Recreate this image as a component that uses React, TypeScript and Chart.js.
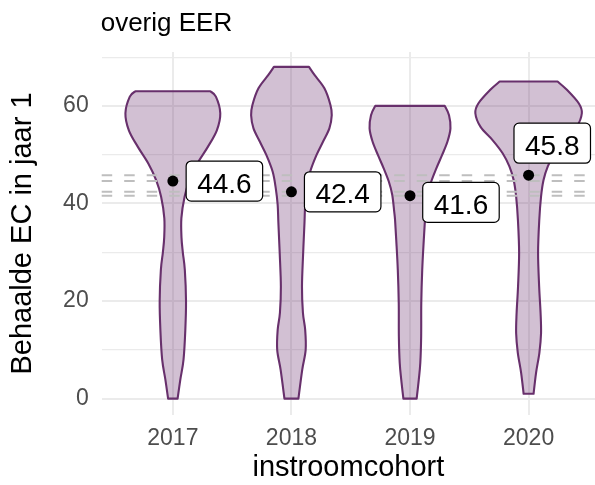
import { useEffect, useRef } from 'react';
import { Chart, registerables } from 'chart.js';

Chart.register(...registerables);

// ---- data ----
const cohorts = [2017, 2018, 2019, 2020];
const cohortLabels = ['2017', '2018', '2019', '2020'];
const means = [44.6, 42.4, 41.6, 45.8];
const meanLabels = ['44.6', '42.4', '41.6', '45.8'];
const yTicks = [0, 10, 20, 30, 40, 50, 60, 70];
const yTickLabels = ['0', '', '20', '', '40', '', '60', ''];

// violin profiles: EC level and half-width (in cohort units)
const ec2017 = [0, 3.9, 8, 14, 20, 26.4, 30, 33, 37, 41.4, 44.8, 48.2, 51.6, 55, 58.5, 61.9, 63];
const hw2017 = [0.040, 0.063, 0.090, 0.105, 0.111, 0.101, 0.084, 0.073, 0.072, 0.099, 0.141, 0.207, 0.295, 0.371, 0.400, 0.363, 0.316];
const ec2018 = [0, 5.9, 10, 14.1, 17.6, 23, 29.9, 36, 39.7, 43.1, 46.5, 49.9, 52.7, 55.4, 58.1, 60.2, 63.6, 66.3, 68];
const hw2018 = [0.059, 0.091, 0.120, 0.116, 0.097, 0.089, 0.099, 0.110, 0.116, 0.132, 0.158, 0.211, 0.267, 0.320, 0.340, 0.329, 0.278, 0.196, 0.148];
const ec2019 = [0, 3.9, 7.4, 12.8, 19.6, 26.4, 32.5, 36.6, 38.3, 41.8, 44.5, 47.2, 49.9, 52.7, 55.4, 58.1, 60];
const hw2019 = [0.056, 0.074, 0.087, 0.094, 0.095, 0.103, 0.116, 0.126, 0.133, 0.150, 0.179, 0.222, 0.270, 0.316, 0.341, 0.329, 0.293];
const ec2020 = [1.0, 5.3, 9.4, 13.4, 17.6, 23, 29.9, 36.6, 41.4, 44.8, 47.6, 50.3, 53, 55.7, 58.5, 60.5, 63.3, 65];
const hw2020 = [0.042, 0.063, 0.091, 0.105, 0.101, 0.089, 0.080, 0.090, 0.105, 0.126, 0.162, 0.219, 0.304, 0.405, 0.449, 0.424, 0.323, 0.244];

const violinEC = [ec2017, ec2018, ec2019, ec2020];
const violinHW = [hw2017, hw2018, hw2019, hw2020];

const titleText = 'overig EER';
const xTitle = 'instroomcohort';
const yTitle = 'Behaalde EC in jaar 1';

// ---- styling / layout ----
const FONT = '"Liberation Sans", Arial, Helvetica, sans-serif';
const VIOLIN_LINE = '#68306c';
const VIOLIN_FILL = 'rgba(106,48,110,0.3)';
const labelNudge: [number, number][] = [[13.3, 0], [13, 0], [12.7, 6.7], [-14.6, -32]];

type Pt = [number, number];

function smoothSide(ctx: CanvasRenderingContext2D, pts: Pt[], move: boolean) {
  if (move) ctx.moveTo(pts[0][0], pts[0][1]);
  else ctx.lineTo(pts[0][0], pts[0][1]);
  for (let i = 0; i < pts.length - 1; i++) {
    const p0 = pts[i - 1] || pts[i];
    const p1 = pts[i];
    const p2 = pts[i + 1];
    const p3 = pts[i + 2] || pts[i + 1];
    const c1x = p1[0] + (p2[0] - p0[0]) / 6;
    const c1y = p1[1] + (p2[1] - p0[1]) / 6;
    const c2x = p2[0] - (p3[0] - p1[0]) / 6;
    const c2y = p2[1] - (p3[1] - p1[1]) / 6;
    ctx.bezierCurveTo(c1x, c1y, c2x, c2y, p2[0], p2[1]);
  }
}

function roundRect(ctx: CanvasRenderingContext2D, x: number, y: number, w: number, h: number, r: number) {
  ctx.beginPath();
  ctx.moveTo(x + r, y);
  ctx.lineTo(x + w - r, y);
  ctx.arcTo(x + w, y, x + w, y + r, r);
  ctx.lineTo(x + w, y + h - r);
  ctx.arcTo(x + w, y + h, x + w - r, y + h, r);
  ctx.lineTo(x + r, y + h);
  ctx.arcTo(x, y + h, x, y + h - r, r);
  ctx.lineTo(x, y + r);
  ctx.arcTo(x, y, x + r, y, r);
  ctx.closePath();
}

const violinPlugin = {
  id: 'violinPlugin',
  beforeDatasetsDraw(chart: any) {
    const { ctx, chartArea } = chart;
    const xs = chart.scales.x;
    const ys = chart.scales.y;
    ctx.save();
    cohorts.forEach((c, k) => {
      const ec = violinEC[k];
      const hw = violinHW[k];
      const right: Pt[] = ec.map((e, i) => [xs.getPixelForValue(c + hw[i]), ys.getPixelForValue(e)]);
      const left: Pt[] = ec.map((e, i) => [xs.getPixelForValue(c - hw[i]), ys.getPixelForValue(e)] as Pt).reverse();
      ctx.beginPath();
      smoothSide(ctx, right, true);
      smoothSide(ctx, left, false);
      ctx.closePath();
      ctx.fillStyle = VIOLIN_FILL;
      ctx.fill();
      ctx.lineWidth = 2.1;
      ctx.lineJoin = 'round';
      ctx.strokeStyle = VIOLIN_LINE;
      ctx.stroke();
    });
    // dashed mean lines
    ctx.setLineDash([10.5, 12]);
    ctx.strokeStyle = '#bebebe';
    ctx.lineWidth = 2;
    means.forEach((m) => {
      const py = ys.getPixelForValue(m);
      ctx.beginPath();
      ctx.moveTo(chartArea.left, py);
      ctx.lineTo(chartArea.right, py);
      ctx.stroke();
    });
    ctx.restore();
  },
  afterDatasetsDraw(chart: any) {
    const { ctx } = chart;
    const xs = chart.scales.x;
    const ys = chart.scales.y;
    ctx.save();
    ctx.font = `28px ${FONT}`;
    ctx.textAlign = 'left';
    ctx.textBaseline = 'alphabetic';
    cohorts.forEach((c, k) => {
      const px = xs.getPixelForValue(c);
      const py = ys.getPixelForValue(means[k]);
      const text = meanLabels[k];
      const tw = ctx.measureText(text).width;
      const padX = 11;
      const w = tw + padX * 2;
      const h = 40;
      const bx = px + labelNudge[k][0];
      const cy = py + labelNudge[k][1];
      roundRect(ctx, bx, cy - h / 2, w, h, 5);
      ctx.fillStyle = '#ffffff';
      ctx.fill();
      ctx.lineWidth = 1.2;
      ctx.strokeStyle = '#000000';
      ctx.stroke();
      ctx.fillStyle = '#000000';
      ctx.fillText(text, bx + padX, cy + 11.5);
    });
    ctx.restore();
  },
  afterDraw(chart: any) {
    const { ctx, chartArea } = chart;
    ctx.save();
    ctx.font = `26px ${FONT}`;
    ctx.fillStyle = '#000000';
    ctx.textAlign = 'left';
    ctx.textBaseline = 'alphabetic';
    ctx.fillText(titleText, chartArea.left - 1, 31);
    ctx.restore();
  },
};

export default function App() {
  const ref = useRef<HTMLCanvasElement | null>(null);

  useEffect(() => {
    if (!ref.current) return;
    const chart = new Chart(ref.current, {
      type: 'scatter',
      data: {
        datasets: [
          {
            label: 'gemiddelde',
            data: cohorts.map((c, i) => ({ x: c, y: means[i] })),
            pointRadius: 5.5,
            pointHoverRadius: 5.5,
            pointBackgroundColor: '#000000',
            pointBorderWidth: 0,
            showLine: false,
          },
        ],
      },
      options: {
        animation: false,
        responsive: false,
        devicePixelRatio: 1,
        events: [],
        layout: { autoPadding: false, padding: { top: 52, left: 0, right: 0, bottom: 0 } },
        plugins: {
          legend: { display: false },
          tooltip: { enabled: false },
          title: { display: false },
        },
        scales: {
          x: {
            type: 'linear',
            min: 2016.4,
            max: 2020.56,
            afterBuildTicks: (s: any) => {
              s.ticks = cohorts.map((v) => ({ value: v }));
            },
            afterFit: (s: any) => {
              s.height = 70;
            },
            grid: { color: '#ebebeb', lineWidth: 2, drawTicks: false },
            border: { display: false },
            ticks: {
              padding: 10,
              color: '#4d4d4d',
              font: { family: FONT, size: 23 },
              maxRotation: 0,
              autoSkip: false,
              callback: (v: any) => {
                const i = cohorts.indexOf(Number(v));
                return i >= 0 ? cohortLabels[i] : '';
              },
            },
            title: {
              display: true,
              text: xTitle,
              color: '#000000',
              font: { family: FONT, size: 29 },
              padding: { top: 0, bottom: 0 },
            },
          },
          y: {
            type: 'linear',
            min: -3.35,
            max: 71.05,
            afterBuildTicks: (s: any) => {
              s.ticks = yTicks.map((v) => ({ value: v }));
            },
            afterFit: (s: any) => {
              s.width = 101.7;
            },
            grid: {
              color: '#ebebeb',
              lineWidth: (ctx: any) => (ctx.tick && ctx.tick.value % 20 === 0 ? 2 : 1.2),
              drawTicks: false,
            },
            border: { display: false },
            ticks: {
              padding: 13,
              color: '#4d4d4d',
              font: { family: FONT, size: 23 },
              autoSkip: false,
              callback: (v: any) => {
                const i = yTicks.indexOf(Number(v));
                return i >= 0 ? yTickLabels[i] : '';
              },
            },
            title: {
              display: true,
              text: yTitle,
              color: '#000000',
              font: { family: FONT, size: 29 },
              padding: { top: 6, bottom: 0 },
            },
          },
        },
      },
      plugins: [violinPlugin],
    } as any);
    return () => chart.destroy();
  }, []);

  return (
    <div style={{ position: 'absolute', left: 0, top: 0, width: 595, height: 485, background: '#ffffff' }}>
      <canvas ref={ref} width={595} height={485} style={{ display: 'block' }} />
    </div>
  );
}
